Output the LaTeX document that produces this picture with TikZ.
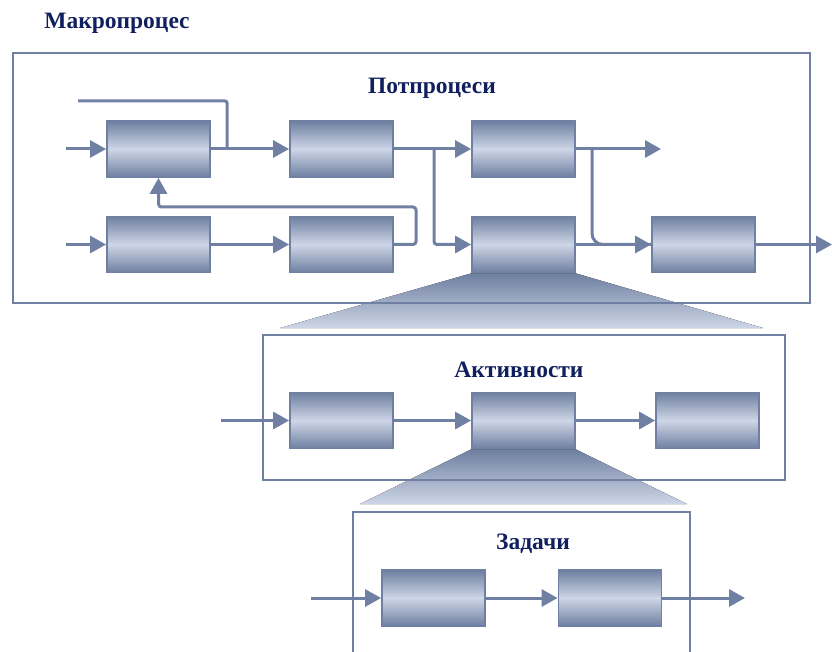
\documentclass[tikz,border=0pt]{standalone}
\usepackage{fontspec}
\setmainfont{Liberation Serif}
\usetikzlibrary{arrows.meta,backgrounds}
\definecolor{ln}{RGB}{112,128,162}
\definecolor{bxd}{RGB}{110,127,160}
\definecolor{bxl}{RGB}{206,214,231}
\definecolor{ttl}{RGB}{16,32,94}
\tikzset{
  proc/.style={draw=ln, line width=1.8pt, minimum width=103pt, minimum height=56pt,
    inner sep=0pt, top color=bxd, bottom color=bxd, middle color=bxl},
  frm/.style={draw=ln, line width=2.8pt, inner sep=0pt},
  conn/.style={draw=ln, line width=3pt},
  arr/.style={conn, -{Triangle[length=16pt,width=17pt]}},
  ttlbl/.style={font=\bfseries\fontsize{23.5}{26}\selectfont, text=ttl, inner sep=0pt}
}
\begin{document}
\begin{tikzpicture}[x=1pt,y=-1pt]
\useasboundingbox (0,0) rectangle (832,652);
% frames
\node[frm, minimum width=797pt, minimum height=250pt] (f1) at (411.5,178) {};
\node[frm, minimum width=522pt, minimum height=145pt] (f2) at (524,407.5) {};
\node[frm, minimum width=337pt, minimum height=170pt] (f3) at (521.5,597) {};
% titles
\node[ttlbl] (t0) at (117,23) {Макропроцес};
\node[ttlbl] (t1) at (432,88) {Потпроцеси};
\node[ttlbl] (t2) at (519,370) {Активности};
\node[ttlbl] (t3) at (533,544) {Задачи};
% subprocesses
\node[proc] (b1) at (158.5,149) {};
\node[proc] (b2) at (341.5,149) {};
\node[proc] (b3) at (523.5,149) {};
\node[proc] (b4) at (158.5,244.5) {};
\node[proc] (b5) at (341.5,244.5) {};
\node[proc] (b6) at (523.5,244.5) {};
\node[proc] (b7) at (703.5,244.5) {};
% activities
\node[proc] (c1) at (341.5,420.5) {};
\node[proc] (c2) at (523.5,420.5) {};
\node[proc] (c3) at (707.5,420.5) {};
% tasks
\node[proc] (d1) at (433.5,598) {};
\node[proc] (d2) at (610,598) {};
% zoom-in wedges
\begin{scope}[on background layer]
\fill[top color=bxd, bottom color=bxl] (b6.south west) -- (b6.south east) -- (763,328) -- (280,328) -- cycle;
\fill[top color=bxd, bottom color=bxl] (c2.south west) -- (c2.south east) -- (687,504) -- (360,504) -- cycle;
\end{scope}
% free ends and junctions
\coordinate (in1) at (66,149);
\coordinate (in4) at (66,244.5);
\coordinate (loopstart) at (78,101);
\coordinate (loopjoin) at (227,149);
\coordinate (s1) at (434,149);
\coordinate (s2) at (592,149);
\coordinate (out3) at (661,149);
\coordinate (out7) at (832,244.5);
\coordinate (inc) at (221,420.5);
\coordinate (ind) at (311,598);
\coordinate (outd) at (745,598);
% subprocess flow
\draw[arr] (in1) -- (b1);
\draw[arr] (in4) -- (b4);
\draw[conn, rounded corners=2pt] (loopstart) -| (loopjoin);
\draw[arr] (b1) -- (b2);
\draw[arr] (b2) -- (b3);
\draw[arr] (b4) -- (b5);
\draw[arr, rounded corners=3pt] (b5.east) -- (416,244.5) -- (416,207) -- (158.5,207) -- (b1.south);
\draw[arr, rounded corners=3pt] (s1) |- (b6.west);
\draw[arr] (b3) -- (out3);
\draw[conn, rounded corners=11pt] (s2) |- (b7.west);
\draw[arr] (b6) -- (b7);
\draw[arr] (b7) -- (out7);
% activity flow
\draw[arr] (inc) -- (c1);
\draw[arr] (c1) -- (c2);
\draw[arr] (c2) -- (c3);
% task flow
\draw[arr] (ind) -- (d1);
\draw[arr] (d1) -- (d2);
\draw[arr] (d2) -- (outd);
\end{tikzpicture}
\end{document}
